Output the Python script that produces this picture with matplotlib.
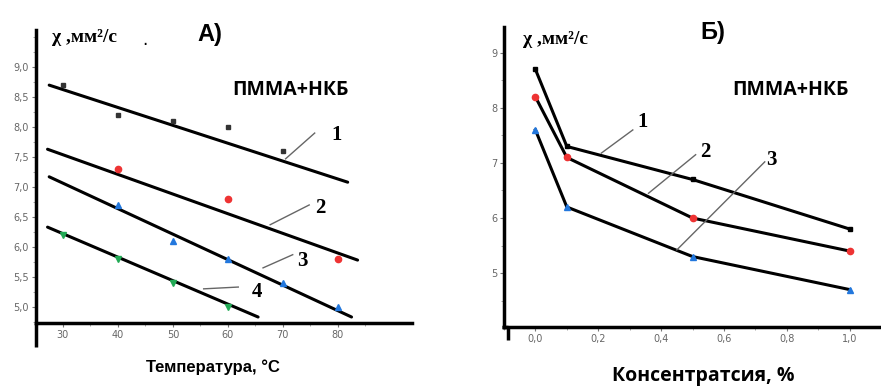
import matplotlib.pyplot as plt
import numpy as np

# --- данные: А) температура ---
s1_T_x = [30, 40, 50, 60, 70]
s1_T_y = [8.7, 8.2, 8.1, 8.0, 7.6]
s2_T_x = [40, 60, 80]
s2_T_y = [7.3, 6.8, 5.8]
s3_T_x = [40, 50, 60, 70, 80]
s3_T_y = [6.7, 6.1, 5.8, 5.4, 5.0]
s4_T_x = [30, 40, 50, 60]
s4_T_y = [6.2, 5.8, 5.4, 5.0]

# линии аппроксимации (концы)
fit1 = ([27.5, 81.8], [8.70, 7.08])
fit2 = ([27.2, 83.6], [7.63, 5.78])
fit3 = ([27.5, 82.5], [7.17, 4.83])
fit4 = ([27.2, 65.5], [6.33, 4.83])

# номера кривых и выноски
labels_A = ['1', '2', '3', '4']
labels_A_pos = [(79.8, 7.87), (76.9, 6.65), (73.5, 5.77), (65.3, 5.25)]
leaders_A = [((70.5, 75.8), (7.47, 7.90)),
             ((67.7, 74.8), (6.37, 6.70)),
             ((66.4, 71.8), (5.65, 5.87)),
             ((55.6, 61.9), (5.30, 5.33))]

yticks_A = [5.0, 5.5, 6.0, 6.5, 7.0, 7.5, 8.0, 8.5, 9.0]
yticklabels_A = ['5,0', '5,5', '6,0', '6,5', '7,0', '7,5', '8,0', '8,5', '9,0']
xticks_A = [30, 40, 50, 60, 70, 80]

# --- данные: Б) концентрация ---
conc = [0.0, 0.1, 0.5, 1.0]
s1_C = [8.7, 7.3, 6.7, 5.8]
s2_C = [8.2, 7.1, 6.0, 5.4]
s3_C = [7.6, 6.2, 5.3, 4.7]

labels_B = ['1', '2', '3']
labels_B_pos = [(0.34, 7.75), (0.54, 7.20), (0.75, 7.05)]
leaders_B = [((0.21, 0.31), (7.18, 7.60)),
             ((0.36, 0.51), (6.45, 7.15)),
             ((0.45, 0.73), (5.42, 7.02))]

yticks_B = [5, 6, 7, 8, 9]
xticks_B = [0.0, 0.2, 0.4, 0.6, 0.8, 1.0]
xticklabels_B = ['0,0', '0,2', '0,4', '0,6', '0,8', '1,0']

W, H = 881, 387
fig = plt.figure(figsize=(W / 100, H / 100), dpi=100)

def px_axes(x0, x1, y_top, y_bot):
    return fig.add_axes([x0 / W, (H - y_bot) / H, (x1 - x0) / W, (y_bot - y_top) / H])

def style_axes(ax):
    for s in ['top', 'right']:
        ax.spines[s].set_visible(False)
    for s in ['left', 'bottom']:
        ax.spines[s].set_linewidth(2.5)
    ax.tick_params(which='major', direction='out', length=3, width=0.8, color='#777777',
                   labelsize=7, labelcolor='#666666', pad=2)
    ax.tick_params(which='minor', direction='out', length=2, width=0.6, color='#999999')
    ax.patch.set_alpha(0)

serif = 'Liberation Serif'

# ===== А) =====
axA = px_axes(36, 412, 30, 323)
style_axes(axA)
axA.set_xlim(25.1, 93.5)
axA.set_ylim(4.73, 9.62)
axA.set_yticks(yticks_A)
axA.set_yticklabels(yticklabels_A)
axA.set_yticks(np.arange(4.75, 9.6, 0.25), minor=True)
axA.set_xticks(xticks_A)
axA.set_xticks(np.arange(35, 90, 10), minor=True)
# продление оси Y ниже оси X
axA.plot([25.1, 25.1], [4.73, 4.33], color='black', lw=2.5, clip_on=False, solid_capstyle='butt')

for fx, fy in [fit1, fit2, fit3, fit4]:
    axA.plot(fx, fy, color='black', lw=2.2, solid_capstyle='round')

axA.plot(s1_T_x, s1_T_y, 's', color='#333333', ms=3.5, ls='none')
axA.plot(s2_T_x, s2_T_y, 'o', color='#ee3333', ms=4.5, ls='none')
axA.plot(s3_T_x, s3_T_y, '^', color='#2277dd', ms=4.5, ls='none')
axA.plot(s4_T_x, s4_T_y, 'v', color='#22aa55', ms=4.5, ls='none')

for (lx, ly), lab in zip(labels_A_pos, labels_A):
    axA.text(lx, ly, lab, fontsize=15, family=serif, fontweight='bold', ha='center', va='center')
for lx, ly in leaders_A:
    axA.plot(lx, ly, color='#666666', lw=1.0)

fig.text(52 / W, 1 - 37 / H, 'χ ,мм²/с', fontsize=14, family=serif, fontweight='bold',
         ha='left', va='center')
fig.text(145 / W, 1 - 40 / H, '.', fontsize=12, ha='center', va='center')
fig.text(210 / W, 1 - 34 / H, 'А)', fontsize=17, fontweight='bold', family='Liberation Sans',
         ha='center', va='center')
fig.text(290 / W, 1 - 90 / H, 'ПММА+НКБ', fontsize=14, fontweight='bold', family='Open Sans',
         ha='center', va='center')
fig.text(213 / W, 1 - 367 / H, 'Температура, °С', fontsize=12, fontweight='bold',
         family='Liberation Sans', ha='center', va='center')

# ===== Б) =====
axB = px_axes(504, 881, 27, 327)
style_axes(axB)
axB.set_xlim(-0.086, 1.086)
axB.set_ylim(4.02, 9.47)
axB.set_yticks(yticks_B)
axB.set_yticks(np.arange(4.5, 9.5, 0.5), minor=True)
axB.set_xticks(xticks_B)
axB.set_xticklabels(xticklabels_B)
axB.set_xticks(np.arange(-0.1, 1.1, 0.1), minor=True)
axB.plot([-0.086, -0.086], [4.02, 3.78], color='black', lw=2.5, clip_on=False, solid_capstyle='butt')
axB.plot([-0.086, -0.105], [4.02, 4.02], color='black', lw=2.5, clip_on=False, solid_capstyle='butt')

axB.plot(conc, s1_C, color='black', lw=2.2)
axB.plot(conc, s2_C, color='black', lw=2.2)
axB.plot(conc, s3_C, color='black', lw=2.2)
axB.plot(conc, s1_C, 's', color='black', ms=3.5, ls='none')
axB.plot(conc, s2_C, 'o', color='#ee3333', ms=4.5, ls='none')
axB.plot(conc, s3_C, '^', color='#2277dd', ms=4.5, ls='none')

for (lx, ly), lab in zip(labels_B_pos, labels_B):
    axB.text(lx, ly, lab, fontsize=15, family=serif, fontweight='bold', ha='center', va='center')
for lx, ly in leaders_B:
    axB.plot(lx, ly, color='#666666', lw=1.0)

fig.text(523 / W, 1 - 39 / H, 'χ ,мм²/с', fontsize=14, family=serif, fontweight='bold',
         ha='left', va='center')
fig.text(713 / W, 1 - 33 / H, 'Б)', fontsize=17, fontweight='bold', family='Liberation Sans',
         ha='center', va='center')
fig.text(790 / W, 1 - 90 / H, 'ПММА+НКБ', fontsize=14, fontweight='bold', family='Open Sans',
         ha='center', va='center')
fig.text(703 / W, 1 - 376 / H, 'Консентратсия, %', fontsize=14, fontweight='bold',
         family='Open Sans', ha='center', va='center')

fig.savefig('out.png', dpi=100)
